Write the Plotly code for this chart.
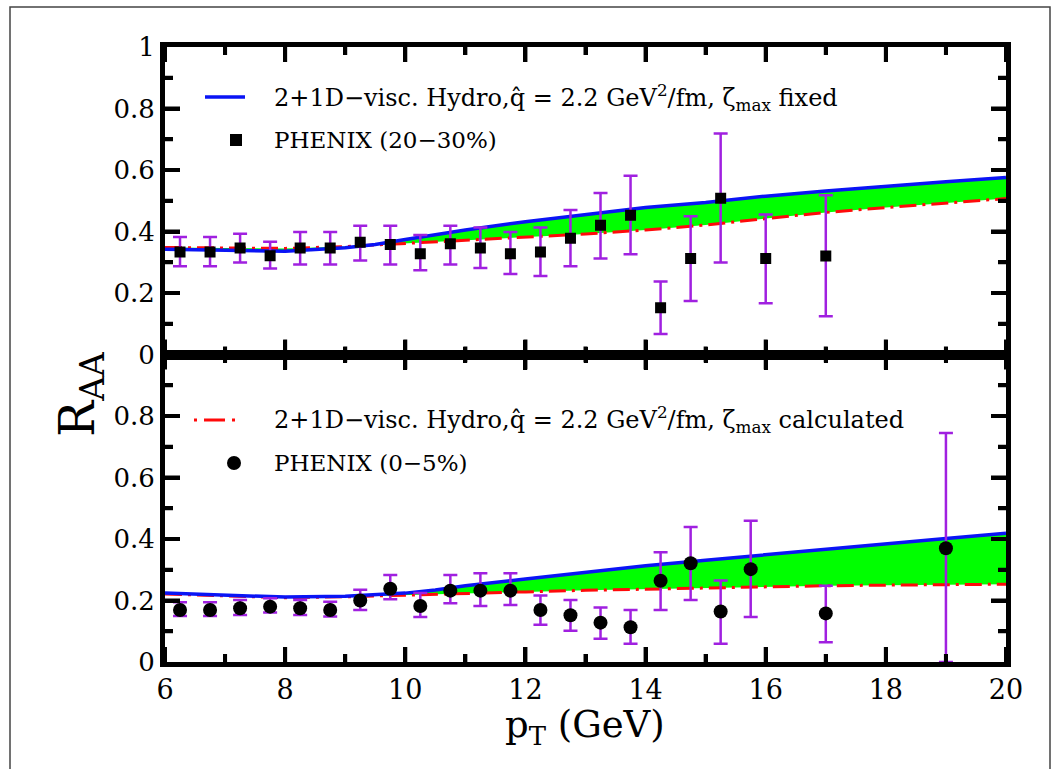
import plotly.graph_objects as go

# ---------------- data ----------------
# theory curves (common pT grid)
pt_curve = [6, 7, 8, 9, 9.5, 10, 10.5, 11, 12, 13, 14, 15, 16, 17, 18, 19, 20]
top_fixed = [0.342, 0.340, 0.336, 0.347, 0.358, 0.374, 0.390, 0.405, 0.432, 0.456,
             0.478, 0.494, 0.515, 0.532, 0.548, 0.562, 0.576]
top_calc = [0.348, 0.347, 0.345, 0.351, 0.356, 0.361, 0.366, 0.371, 0.380, 0.392,
            0.405, 0.421, 0.442, 0.462, 0.478, 0.493, 0.507]
bot_fixed = [0.224, 0.218, 0.211, 0.214, 0.218, 0.224, 0.234, 0.248, 0.270, 0.292,
             0.313, 0.331, 0.349, 0.368, 0.385, 0.402, 0.419]
bot_calc = [0.221, 0.215, 0.209, 0.212, 0.215, 0.218, 0.220, 0.223, 0.228, 0.233,
            0.237, 0.241, 0.244, 0.248, 0.250, 0.252, 0.253]

# PHENIX 20-30%
pt_2030 = [6.25, 6.75, 7.25, 7.75, 8.25, 8.75, 9.25, 9.75, 10.25, 10.75, 11.25,
           11.75, 12.25, 12.75, 13.25, 13.75, 14.25, 14.75, 15.25, 16, 17]
raa_2030 = [0.333, 0.333, 0.346, 0.321, 0.346, 0.346, 0.365, 0.358, 0.328, 0.360, 0.346,
            0.328, 0.333, 0.378, 0.420, 0.453, 0.152, 0.312, 0.508, 0.312, 0.320]
hi_2030 = [0.382, 0.382, 0.393, 0.367, 0.398, 0.398, 0.419, 0.419, 0.389, 0.419, 0.413,
           0.398, 0.413, 0.470, 0.525, 0.581, 0.237, 0.450, 0.719, 0.455, 0.518]
lo_2030 = [0.287, 0.287, 0.299, 0.280, 0.293, 0.293, 0.306, 0.293, 0.274, 0.293, 0.281,
           0.262, 0.255, 0.287, 0.312, 0.326, 0.067, 0.174, 0.299, 0.167, 0.124]

# PHENIX 0-5%
pt_005 = [6.25, 6.75, 7.25, 7.75, 8.25, 8.75, 9.25, 9.75, 10.25, 10.75, 11.25,
          11.75, 12.25, 12.75, 13.25, 13.75, 14.25, 14.75, 15.25, 15.75, 17, 19]
raa_005 = [0.169, 0.169, 0.175, 0.180, 0.175, 0.169, 0.200, 0.238, 0.182, 0.232, 0.232,
           0.232, 0.169, 0.152, 0.128, 0.113, 0.264, 0.321, 0.164, 0.302, 0.158, 0.370]
hi_005 = [0.194, 0.194, 0.202, 0.207, 0.202, 0.196, 0.235, 0.283, 0.224, 0.283, 0.289,
          0.289, 0.216, 0.202, 0.177, 0.169, 0.357, 0.439, 0.265, 0.459, 0.248, 0.745]
lo_005 = [0.150, 0.150, 0.153, 0.161, 0.153, 0.148, 0.169, 0.204, 0.146, 0.191, 0.182,
          0.185, 0.121, 0.102, 0.076, 0.059, 0.169, 0.202, 0.059, 0.146, 0.064, 0.0]

# ticks
x_ticks = [6, 8, 10, 12, 14, 16, 18, 20]
x_minor = [7, 9, 11, 13, 15, 17, 19]
y_ticks_top = [0, 0.2, 0.4, 0.6, 0.8, 1]
y_labels_top = ["0", "0.2", "0.4", "0.6", "0.8", "1"]
y_ticks_bot = [0, 0.2, 0.4, 0.6, 0.8]
y_labels_bot = ["0", "0.2", "0.4", "0.6", "0.8"]
y_marks = [0.2, 0.4, 0.6, 0.8]
y_minor = [0.1, 0.3, 0.5, 0.7, 0.9]

X_RANGE = [6, 20]
Y_RANGE = [0, 1]

# ---------------- styles ----------------
BLUE = "#0A14F5"
RED = "#FF0A0A"
GREEN = "#00FF00"
PURPLE = "#A020E0"
RED_DASH = "17px,6px,3px,6px"
SERIF = "DejaVu Serif"

W, H = 1058, 769
L, R, T, B = 165, 1006, 47, 662
MAJ, MIN = 15, 8   # tick lengths in pixels
DOMAINS = {"top": (0.5, 1.0), "bot": (0.0, 0.5)}


def px(x):
    return (x - L) / (R - L)


def py(y):
    return (B - y) / (B - T)


fig = go.Figure()

panels = [
    ("x2", "y", top_fixed, top_calc, pt_2030, raa_2030, hi_2030, lo_2030, "square", 11),
    ("x", "y2", bot_fixed, bot_calc, pt_005, raa_005, hi_005, lo_005, "circle", 14),
]
for xax, yax, upper, lower, xd, yd, hi, lo, sym, msz in panels:
    # green band between the two curves
    fig.add_trace(go.Scatter(x=pt_curve, y=lower, xaxis=xax, yaxis=yax, mode="lines",
                             line=dict(width=0, color=GREEN), showlegend=False,
                             hoverinfo="skip"))
    fig.add_trace(go.Scatter(x=pt_curve, y=upper, xaxis=xax, yaxis=yax, mode="lines",
                             line=dict(width=0, color=GREEN), fill="tonexty",
                             fillcolor=GREEN, showlegend=False, hoverinfo="skip"))
    # curves
    fig.add_trace(go.Scatter(x=pt_curve, y=lower, xaxis=xax, yaxis=yax, mode="lines",
                             line=dict(width=3, color=RED, dash=RED_DASH),
                             showlegend=False))
    fig.add_trace(go.Scatter(x=pt_curve, y=upper, xaxis=xax, yaxis=yax, mode="lines",
                             line=dict(width=3.5, color=BLUE), showlegend=False))
    # data
    fig.add_trace(go.Scatter(
        x=xd, y=yd, xaxis=xax, yaxis=yax, mode="markers",
        marker=dict(symbol=sym, size=msz, color="black"),
        error_y=dict(type="data", symmetric=False,
                     array=[h - v for h, v in zip(hi, yd)],
                     arrayminus=[v - l for v, l in zip(yd, lo)],
                     color=PURPLE, thickness=2.5, width=7),
        showlegend=False))


def axis(**kw):
    d = dict(showgrid=False, zeroline=False, showline=True, linecolor="black",
             linewidth=5, mirror="ticks", ticks="inside", ticklen=MAJ,
             tickwidth=4, tickcolor="black")
    d.update(kw)
    return d


minor_x = dict(tickvals=x_minor, ticks="inside", ticklen=MIN, tickwidth=4, tickcolor="black")
minor_y = dict(tickvals=y_minor, ticks="inside", ticklen=MIN, tickwidth=4, tickcolor="black")
YSUFFIX = "\u2002"

fig.update_layout(
    width=W, height=H,
    margin=dict(l=L, r=W - R, t=T, b=H - B),
    plot_bgcolor="white", paper_bgcolor="white",
    xaxis=axis(range=X_RANGE, tickvals=x_ticks, anchor="y2", minor=minor_x,
               tickfont=dict(family=SERIF, size=27, color="black")),
    xaxis2=axis(range=X_RANGE, tickvals=x_ticks, anchor="y", matches="x",
                minor=minor_x, showticklabels=False),
    yaxis=axis(range=Y_RANGE, domain=list(DOMAINS["top"]), tickvals=y_ticks_top,
               ticktext=y_labels_top, anchor="x2", ticksuffix=YSUFFIX, minor=minor_y,
               tickfont=dict(family=SERIF, size=26, color="black")),
    yaxis2=axis(range=Y_RANGE, domain=list(DOMAINS["bot"]), tickvals=y_ticks_bot,
                ticktext=y_labels_bot, anchor="x", ticksuffix=YSUFFIX, minor=minor_y,
                tickfont=dict(family=SERIF, size=26, color="black")),
)

# ---- legends ----
QHAT = "q\u0302"
annotations = [
    dict(x=px(272), y=py(97), size=24,
         text=f"2+1D\u2212visc. Hydro,{QHAT} = 2.2 GeV<sup>2</sup>/fm, \u03b6<sub>max</sub> fixed"),
    dict(x=px(272), y=py(140), size=23, text="PHENIX (20\u221230%)"),
    dict(x=px(272), y=py(420), size=24,
         text=f"2+1D\u2212visc. Hydro,{QHAT} = 2.2 GeV<sup>2</sup>/fm, \u03b6<sub>max</sub> calculated"),
    dict(x=px(272), y=py(463), size=23, text="PHENIX (0\u22125%)"),
]
for a in annotations:
    fig.add_annotation(xref="paper", yref="paper", xanchor="left", yanchor="middle",
                       showarrow=False, x=a["x"], y=a["y"], text=a["text"],
                       font=dict(family=SERIF, size=a["size"], color="black"))

# axis titles
fig.add_annotation(xref="paper", yref="paper", x=px(585), y=py(727), xanchor="center",
                   yanchor="middle", showarrow=False,
                   text="p<sub>T</sub> (GeV)",
                   font=dict(family=SERIF, size=37, color="black"))
fig.add_annotation(xref="paper", yref="paper", x=px(80), y=py(395), xanchor="center",
                   yanchor="middle", showarrow=False, textangle=-90,
                   text="R<sub>AA</sub>",
                   font=dict(family=SERIF, size=48, color="black"))

deco = [
    # outer frame
    dict(type="rect", x0=px(10), x1=px(1050), y0=py(7), y1=py(790),
         fillcolor="rgba(0,0,0,0)", line=dict(color="#444444", width=1.5)),
    # legend samples
    dict(type="line", x0=px(205), x1=px(245), y0=py(97), y1=py(97),
         line=dict(color=BLUE, width=3.5)),
    dict(type="rect", x0=px(230), x1=px(242), y0=py(134), y1=py(146),
         fillcolor="black", line=dict(width=0)),
    dict(type="line", x0=px(194), x1=px(238), y0=py(420), y1=py(420),
         line=dict(color=RED, width=3, dash="3px,7px,21px,7px,3px")),
    dict(type="circle", x0=px(227), x1=px(241), y0=py(456), y1=py(470),
         fillcolor="black", line=dict(width=0)),
]

# ---- backup inside tick marks on all edges (paper coordinates, same spots) ----
TICK = dict(color="black", width=4)
fy_px = 1.0 / (B - T)
fx_px = 1.0 / (R - L)


def xfrac(v):
    return (v - X_RANGE[0]) / (X_RANGE[1] - X_RANGE[0])


for d0, d1 in DOMAINS.values():
    span = d1 - d0
    for vals, ln in ((x_ticks, MAJ), (x_minor, MIN)):
        for v in vals:
            xf = xfrac(v)
            deco.append(dict(type="line", x0=xf, x1=xf, y0=d0, y1=d0 + ln * fy_px, line=TICK))
            deco.append(dict(type="line", x0=xf, x1=xf, y0=d1, y1=d1 - ln * fy_px, line=TICK))
    for vals, ln in ((y_marks, MAJ), (y_minor, MIN)):
        for v in vals:
            yf = d0 + span * (v - Y_RANGE[0]) / (Y_RANGE[1] - Y_RANGE[0])
            deco.append(dict(type="line", x0=0, x1=ln * fx_px, y0=yf, y1=yf, line=TICK))
            deco.append(dict(type="line", x0=1, x1=1 - ln * fx_px, y0=yf, y1=yf, line=TICK))

for s in deco:
    fig.add_shape(xref="paper", yref="paper", layer="above", **s)

fig.write_html("out.html")
